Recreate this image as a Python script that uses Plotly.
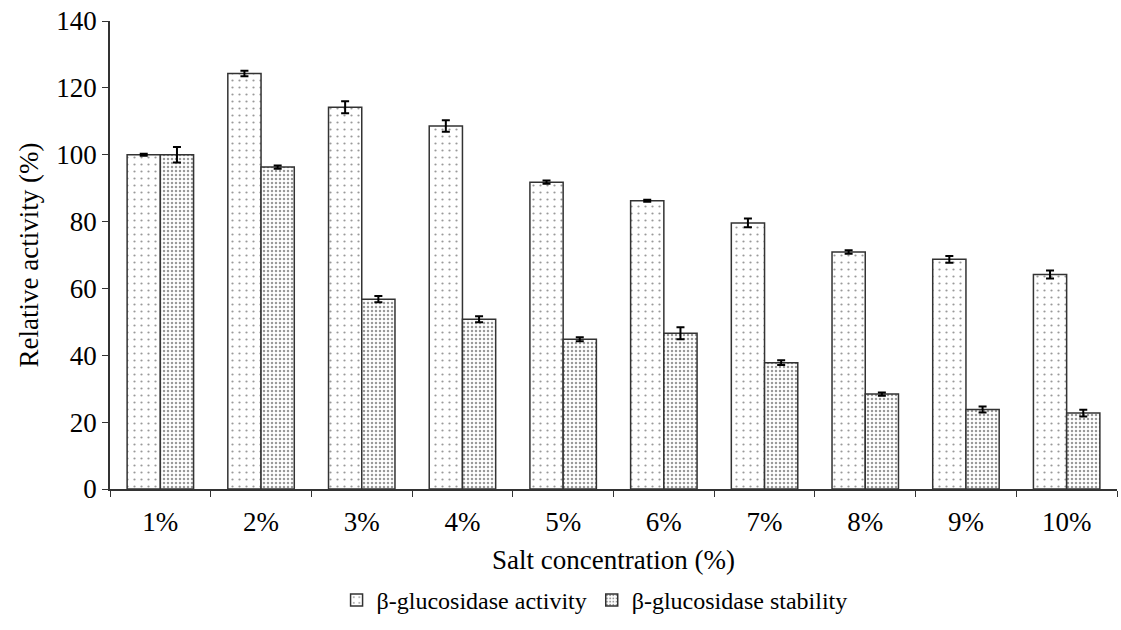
import plotly.graph_objects as go

categories = ["1%", "2%", "3%", "4%", "5%", "6%", "7%", "8%", "9%", "10%"]
activity = [100.0, 124.3, 114.2, 108.6, 91.8, 86.2, 79.6, 70.9, 68.7, 64.2]
activity_err = [0.3, 0.8, 1.8, 1.7, 0.5, 0.3, 1.3, 0.5, 1.0, 1.2]
stability = [100.0, 96.3, 56.8, 50.8, 44.8, 46.6, 37.8, 28.4, 23.8, 22.7]
stability_err = [2.3, 0.5, 0.9, 0.9, 0.6, 1.8, 0.7, 0.5, 0.9, 1.0]

font = "Liberation Serif"
fs = 27

fig = go.Figure()
fig.add_trace(go.Bar(
    x=categories, y=activity, name="β-glucosidase activity",
    marker=dict(color="white", line=dict(color="#333", width=1.5),
                pattern=dict(shape=".", size=7, solidity=0.08, fgcolor="#333", bgcolor="white")),
    error_y=dict(type="data", array=activity_err, color="black", thickness=2, width=4),
))
fig.add_trace(go.Bar(
    x=categories, y=stability, name="β-glucosidase stability",
    marker=dict(color="white", line=dict(color="#333", width=1.5),
                pattern=dict(shape=".", size=4, solidity=0.3, fgcolor="#333", bgcolor="white")),
    error_y=dict(type="data", array=stability_err, color="black", thickness=2, width=4),
))

fig.update_layout(
    width=1121, height=630,
    paper_bgcolor="white", plot_bgcolor="white",
    margin=dict(l=110, r=4, t=21, b=141),
    barmode="group", bargap=0.34, bargroupgap=0,
    font=dict(family=font, size=fs, color="black"),
    legend=dict(orientation="h", x=0.225, xanchor="left", y=-0.19, yanchor="top",
                font=dict(family=font, size=24), itemwidth=30, tracegroupgap=0),
    xaxis=dict(
        showline=True, linecolor="#333", linewidth=1.5,
        ticks="outside", tickson="boundaries", ticklen=6, tickcolor="#333",
        ticklabelstandoff=8,
        title=dict(text="Salt concentration (%)", font=dict(family=font, size=fs), standoff=14),
        tickfont=dict(family=font, size=fs),
    ),
    yaxis=dict(
        range=[0, 140], dtick=20, showgrid=False, zeroline=False,
        showline=True, linecolor="#333", linewidth=1.5,
        ticks="outside", ticklen=6, tickcolor="#333",
        title=dict(text="Relative activity (%)", font=dict(family=font, size=fs), standoff=10),
        tickfont=dict(family=font, size=fs),
    ),
)

fig.write_html("out.html", config={"displayModeBar": False},
               post_script="document.body.style.margin='0';")
